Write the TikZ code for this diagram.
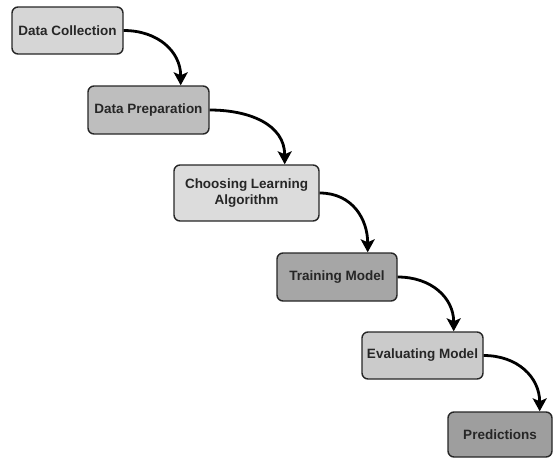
\documentclass[tikz,border=0pt]{standalone}
\usepackage{fontspec}
\setmainfont{Liberation Sans}
\usetikzlibrary{arrows.meta}
\definecolor{boxlight}{HTML}{D6D6D6}
\definecolor{boxmid}{HTML}{BEBEBE}
\definecolor{boxdark}{HTML}{A6A6A6}
\definecolor{edge}{HTML}{262626}
\begin{document}
\begin{tikzpicture}[x=1pt,y=-1pt,
  stage/.style={draw=edge, line width=1.4pt, rounded corners=6pt, align=center,
    font=\bfseries\fontsize{13.5}{16}\selectfont, text=black!85, inner sep=0pt},
  flow/.style={line width=2.8pt, draw=black,
    -{Stealth[width=14pt,length=13pt,inset=3pt]}}
]
\useasboundingbox (0,0) rectangle (557,458);
% boxes given by corner positions
\node[stage, fill=boxlight, minimum width=111pt, minimum height=47pt] (c) at (67.5,30.5) {Data Collection};
\node[stage, fill=boxmid, minimum width=121pt, minimum height=48pt] (p) at (148.5,110) {Data Preparation};
\node[stage, fill=boxlight!85!white, minimum width=145pt, minimum height=56pt] (a) at (246.5,193) {Choosing Learning\\Algorithm};
\node[stage, fill=boxdark, minimum width=120pt, minimum height=48pt] (t) at (337,277) {Training Model};
\node[stage, fill=boxlight!95!black, minimum width=121pt, minimum height=47pt] (e) at (422.5,355.5) {Evaluating Model};
\node[stage, fill=boxdark!95!black, minimum width=104pt, minimum height=45pt] (r) at (500,434.5) {Predictions};
% curved connectors between stages
\draw[flow] (c.east) to[out=0,in=90,looseness=1.1] ([xshift=-29pt]p.north east);
\draw[flow] (p.east) to[out=0,in=90,looseness=1.1] ([xshift=-35pt]a.north east);
\draw[flow] (a.east) to[out=0,in=90,looseness=1.1] ([xshift=-30pt]t.north east);
\draw[flow] (t.east) to[out=0,in=90,looseness=1.1] ([xshift=-30pt]e.north east);
\draw[flow] (e.east) to[out=0,in=90,looseness=1.1] ([xshift=-13pt]r.north east);
\end{tikzpicture}
\end{document}
